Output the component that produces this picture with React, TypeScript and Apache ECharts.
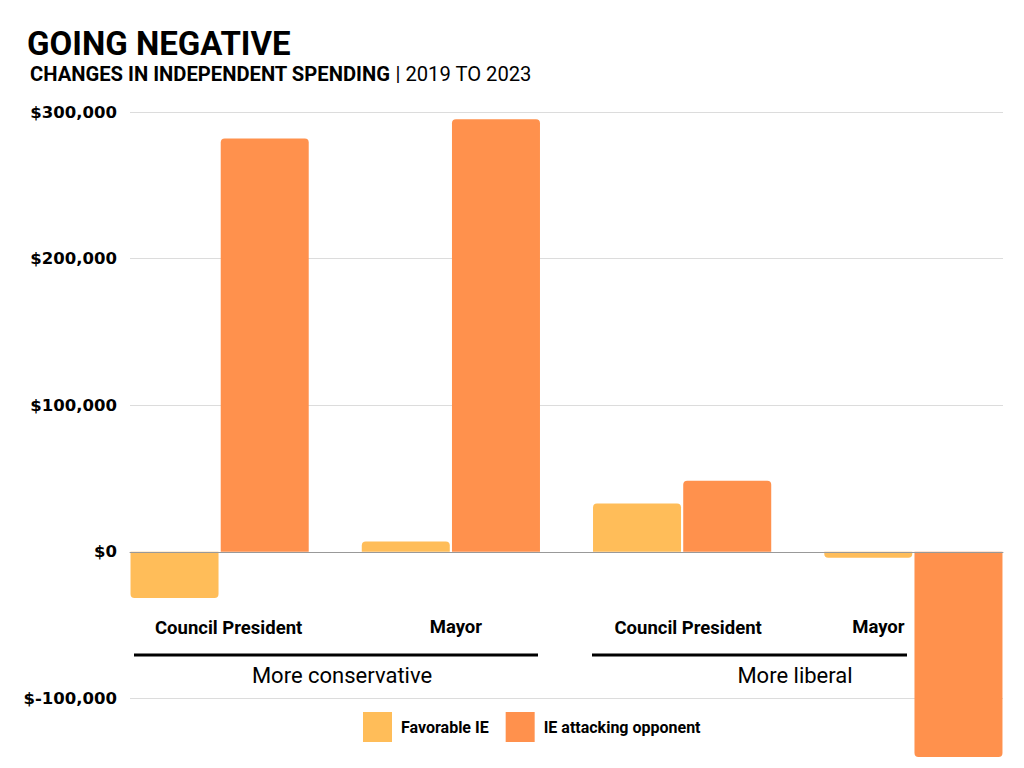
import React, { useEffect, useRef } from "react";
import * as echarts from "echarts";

const categories = ["Council President", "Mayor", "Council President", "Mayor"];
const groupLabels = ["More conservative", "More liberal"];
const favorableIE = [-31500, 7000, 33000, -4000];
const attackingIE = [282000, 295000, 48500, -140000];
const seriesNames = ["Favorable IE", "IE attacking opponent"];
const yTicks = [-200000, -100000, 0, 100000, 200000, 300000];

const FAV = "#FFBD59";
const ATT = "#FF914D";
const FONT = "Roboto";

// label nudges (px) for each category label, relative to the category centre
const labelShiftX = [9, 5, 6, -35];
const labelShiftY = [76, 75, 76, 75];

function fmt(v: number) {
  const s = Math.abs(v).toLocaleString("en-US");
  return v < 0 ? "$-" + s : "$" + s;
}

function barData(vals: number[]) {
  return vals.map((v) => ({
    value: v,
    itemStyle: { borderRadius: v < 0 ? [0, 0, 4, 4] : [4, 4, 0, 0] },
  }));
}

export default function App() {
  const ref = useRef<HTMLDivElement>(null);
  useEffect(() => {
    document.body.style.margin = "0";
    const chart = echarts.init(ref.current!, null, { renderer: "svg" });
    const yMin = yTicks[0];
    const yMax = yTicks[yTicks.length - 1];
    const option: any = {
      animation: false,
      backgroundColor: "#fff",
      grid: [
        { left: 130, right: 21, top: 112, bottom: -77, outerBoundsMode: "none", containLabel: false },
        { left: 104, right: -5, top: 112, bottom: -77, outerBoundsMode: "none", containLabel: false },
      ],
      xAxis: [
        {
          type: "category",
          gridIndex: 0,
          data: categories,
          axisLine: { show: true, onZero: true, lineStyle: { color: "#999", width: 1 } },
          axisTick: { show: false },
          axisLabel: { show: false },
          z: 5,
        },
        {
          type: "category",
          gridIndex: 1,
          data: categories,
          axisLine: { show: false },
          axisTick: { show: false },
          axisLabel: { show: false },
        },
      ],
      yAxis: [
        {
          type: "value",
          gridIndex: 0,
          min: yMin,
          max: yMax,
          interval: 100000,
          axisLine: { show: false },
          axisTick: { show: false },
          splitLine: { show: true, lineStyle: { color: "#dcdcdc", width: 1 } },
          axisLabel: {
            margin: 13,
            color: "#000",
            fontFamily: "DejaVu Sans",
            fontWeight: "bold",
            fontSize: 16.5,
            showMinLabel: false,
            formatter: (v: number) => fmt(v),
          },
        },
        {
          type: "value",
          gridIndex: 1,
          min: yMin,
          max: yMax,
          interval: 100000,
          axisLine: { show: false },
          axisTick: { show: false },
          axisLabel: { show: false },
          splitLine: { show: false },
        },
      ],
      legend: {
        left: 358,
        top: 707,
        itemWidth: 29,
        itemHeight: 30,
        itemGap: 17,
        icon: "rect",
        data: seriesNames,
        textStyle: {
          fontFamily: FONT,
          fontWeight: "bold",
          fontSize: 16,
          color: "#000",
          padding: [0, 0, 0, 4],
        },
      },
      series: [
        {
          name: seriesNames[0],
          type: "bar",
          xAxisIndex: 1,
          yAxisIndex: 1,
          barWidth: 88,
          barGap: "2.5%",
          itemStyle: { color: FAV },
          data: barData(favorableIE),
        },
        {
          name: seriesNames[1],
          type: "bar",
          xAxisIndex: 1,
          yAxisIndex: 1,
          barWidth: 88,
          barGap: "2.5%",
          itemStyle: { color: ATT },
          data: barData(attackingIE),
        },
      ],
    };
    chart.setOption(option);

    const zeroY = chart.convertToPixel({ yAxisIndex: 1 }, 0) as number;
    const catTexts = categories.map((c, i) => {
      const cx = chart.convertToPixel({ xAxisIndex: 1 }, i) as number;
      return {
        type: "text",
        x: cx + labelShiftX[i],
        y: zeroY + labelShiftY[i],
        style: {
          text: c,
          fontFamily: FONT,
          fontWeight: "bold",
          fontSize: 18.5,
          fill: "#000",
          align: "center",
          verticalAlign: "middle",
        },
      };
    });

    chart.setOption({
      graphic: [
        {
          type: "text",
          left: 27,
          top: 27,
          style: {
            text: "GOING NEGATIVE",
            fontFamily: FONT,
            fontWeight: "bold",
            fontSize: 33,
            fill: "#000",
          },
        },
        {
          type: "text",
          left: 30,
          top: 64,
          style: {
            text: "{b|CHANGES IN INDEPENDENT SPENDING}{r| | 2019 TO 2023}",
            rich: {
              b: { fontFamily: FONT, fontWeight: "bold", fontSize: 20.2, fill: "#000" },
              r: { fontFamily: FONT, fontWeight: "normal", fontSize: 20.2, fill: "#000" },
            },
          },
        },
        ...catTexts,
        { type: "line", shape: { x1: 134, y1: 655, x2: 538, y2: 655 }, style: { stroke: "#000", lineWidth: 3 } },
        { type: "line", shape: { x1: 592, y1: 655, x2: 907, y2: 655 }, style: { stroke: "#000", lineWidth: 3 } },
        {
          type: "text",
          x: 342,
          y: 675,
          style: {
            text: groupLabels[0],
            fontFamily: FONT,
            fontSize: 22,
            fill: "#000",
            align: "center",
            verticalAlign: "middle",
          },
        },
        {
          type: "text",
          x: 795,
          y: 675,
          style: {
            text: groupLabels[1],
            fontFamily: FONT,
            fontSize: 22,
            fill: "#000",
            align: "center",
            verticalAlign: "middle",
          },
        },
      ],
    });
    return () => chart.dispose();
  }, []);
  return <div ref={ref} style={{ width: 1024, height: 768 }} />;
}
